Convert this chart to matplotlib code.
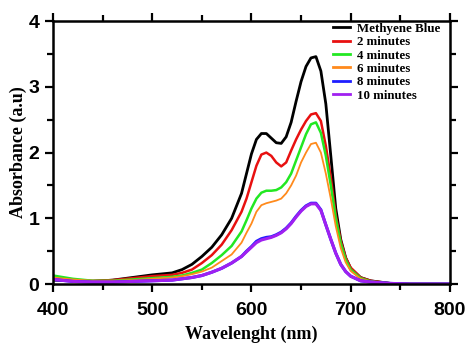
#!/usr/bin/env python3
# UV-vis absorbance of methylene blue over irradiation time
import numpy as np
import matplotlib
matplotlib.use("Agg")
import matplotlib.pyplot as plt
from matplotlib.ticker import MultipleLocator

wavelength = [400, 420, 440, 460, 480, 500, 520, 530, 540, 550, 560, 570, 580, 590,
              595, 600, 605, 610, 615, 620, 625, 630, 635, 640, 645, 650, 655, 660,
              665, 670, 675, 680, 685, 690, 695, 700, 710, 720, 740, 760, 800]

mb = [0.06, 0.05, 0.04, 0.06, 0.10, 0.14, 0.17, 0.22, 0.30, 0.42, 0.56, 0.75, 1.00, 1.38,
      1.68, 1.98, 2.20, 2.29, 2.29, 2.22, 2.15, 2.14, 2.24, 2.46, 2.78, 3.08, 3.31, 3.44,
      3.46, 3.24, 2.74, 1.95, 1.15, 0.68, 0.40, 0.24, 0.10, 0.05, 0.01, 0.0, 0.0]
min2 = [0.10, 0.06, 0.05, 0.06, 0.09, 0.12, 0.14, 0.17, 0.22, 0.32, 0.44, 0.60, 0.82, 1.10,
        1.30, 1.55, 1.80, 1.97, 2.00, 1.95, 1.85, 1.79, 1.85, 2.03, 2.20, 2.35, 2.48, 2.58,
        2.60, 2.48, 2.10, 1.62, 1.05, 0.66, 0.40, 0.25, 0.10, 0.05, 0.01, 0.0, 0.0]
min4 = [0.13, 0.08, 0.05, 0.05, 0.07, 0.09, 0.11, 0.13, 0.17, 0.22, 0.32, 0.44, 0.58, 0.80,
        0.97, 1.15, 1.30, 1.39, 1.42, 1.42, 1.43, 1.47, 1.55, 1.68, 1.88, 2.08, 2.28, 2.43,
        2.46, 2.30, 1.95, 1.50, 1.00, 0.62, 0.37, 0.22, 0.09, 0.04, 0.01, 0.0, 0.0]
min6 = [0.10, 0.07, 0.05, 0.05, 0.06, 0.08, 0.10, 0.12, 0.15, 0.19, 0.25, 0.35, 0.45, 0.63,
        0.78, 0.92, 1.10, 1.20, 1.23, 1.25, 1.27, 1.30, 1.38, 1.50, 1.65, 1.85, 2.00, 2.13,
        2.15, 2.00, 1.68, 1.30, 0.88, 0.55, 0.33, 0.20, 0.08, 0.04, 0.01, 0.0, 0.0]
min8 = [0.07, 0.04, 0.03, 0.03, 0.04, 0.05, 0.06, 0.08, 0.10, 0.13, 0.18, 0.24, 0.32, 0.42,
        0.50, 0.57, 0.65, 0.69, 0.71, 0.72, 0.75, 0.79, 0.85, 0.93, 1.03, 1.12, 1.19, 1.23,
        1.23, 1.13, 0.90, 0.68, 0.47, 0.30, 0.19, 0.12, 0.05, 0.03, 0.01, 0.0, 0.0]
min10 = [0.07, 0.04, 0.03, 0.03, 0.04, 0.05, 0.06, 0.08, 0.10, 0.13, 0.18, 0.24, 0.32, 0.42,
         0.49, 0.56, 0.63, 0.67, 0.69, 0.71, 0.74, 0.78, 0.84, 0.92, 1.02, 1.11, 1.18, 1.22,
         1.22, 1.12, 0.90, 0.68, 0.47, 0.30, 0.19, 0.12, 0.05, 0.03, 0.01, 0.0, 0.0]

labels = ["Methyene Blue", "2 minutes", "4 minutes", "6 minutes", "8 minutes", "10 minutes"]
colors = ["#000000", "#e81010", "#22e822", "#ff8a1c", "#1e1eff", "#a020f0"]
widths = [2.0, 1.8, 1.8, 1.3, 2.2, 2.2]

serif = ["Liberation Serif", "DejaVu Serif"]
sans = ["Liberation Sans", "DejaVu Sans"]

fig = plt.figure(figsize=(4.74, 3.52), dpi=100)
ax = fig.add_axes([0.112, 0.193, 0.837, 0.747])

for y, lab, c, lw in zip([mb, min2, min4, min6, min8, min10], labels, colors, widths):
    ax.plot(wavelength, y, color=c, lw=lw, label=lab)

ax.set_xlim(400, 800)
ax.set_ylim(0, 4)
ax.xaxis.set_major_locator(MultipleLocator(100))
ax.xaxis.set_minor_locator(MultipleLocator(50))
ax.yaxis.set_major_locator(MultipleLocator(1))
ax.yaxis.set_minor_locator(MultipleLocator(0.5))
ax.tick_params(which="both", direction="out", top=True, right=True, width=1.6)
ax.tick_params(which="major", length=6, labelsize=14)
ax.tick_params(axis="x", which="major", pad=7)
ax.tick_params(axis="y", which="major", pad=4)
ax.tick_params(which="minor", length=4)
for lab in ax.get_xticklabels() + ax.get_yticklabels():
    lab.set_family(sans)
    lab.set_fontweight("bold")
for s in ax.spines.values():
    s.set_linewidth(1.8)

ax.set_xlabel("Wavelenght (nm)", family=serif, fontweight="bold", fontsize=13, labelpad=5)
ax.set_ylabel("Absorbance (a.u)", family=serif, fontweight="bold", fontsize=13, labelpad=1)

leg = ax.legend(loc="upper right", frameon=False, prop={"family": serif, "weight": "bold", "size": 9.3},
                handlelength=1.35, handletextpad=0.55, labelspacing=0.1,
                borderaxespad=0.15, bbox_to_anchor=(0.995, 1.02))
for line in leg.get_lines():
    line.set_linewidth(2.0)

fig.savefig("out.png", dpi=100)
